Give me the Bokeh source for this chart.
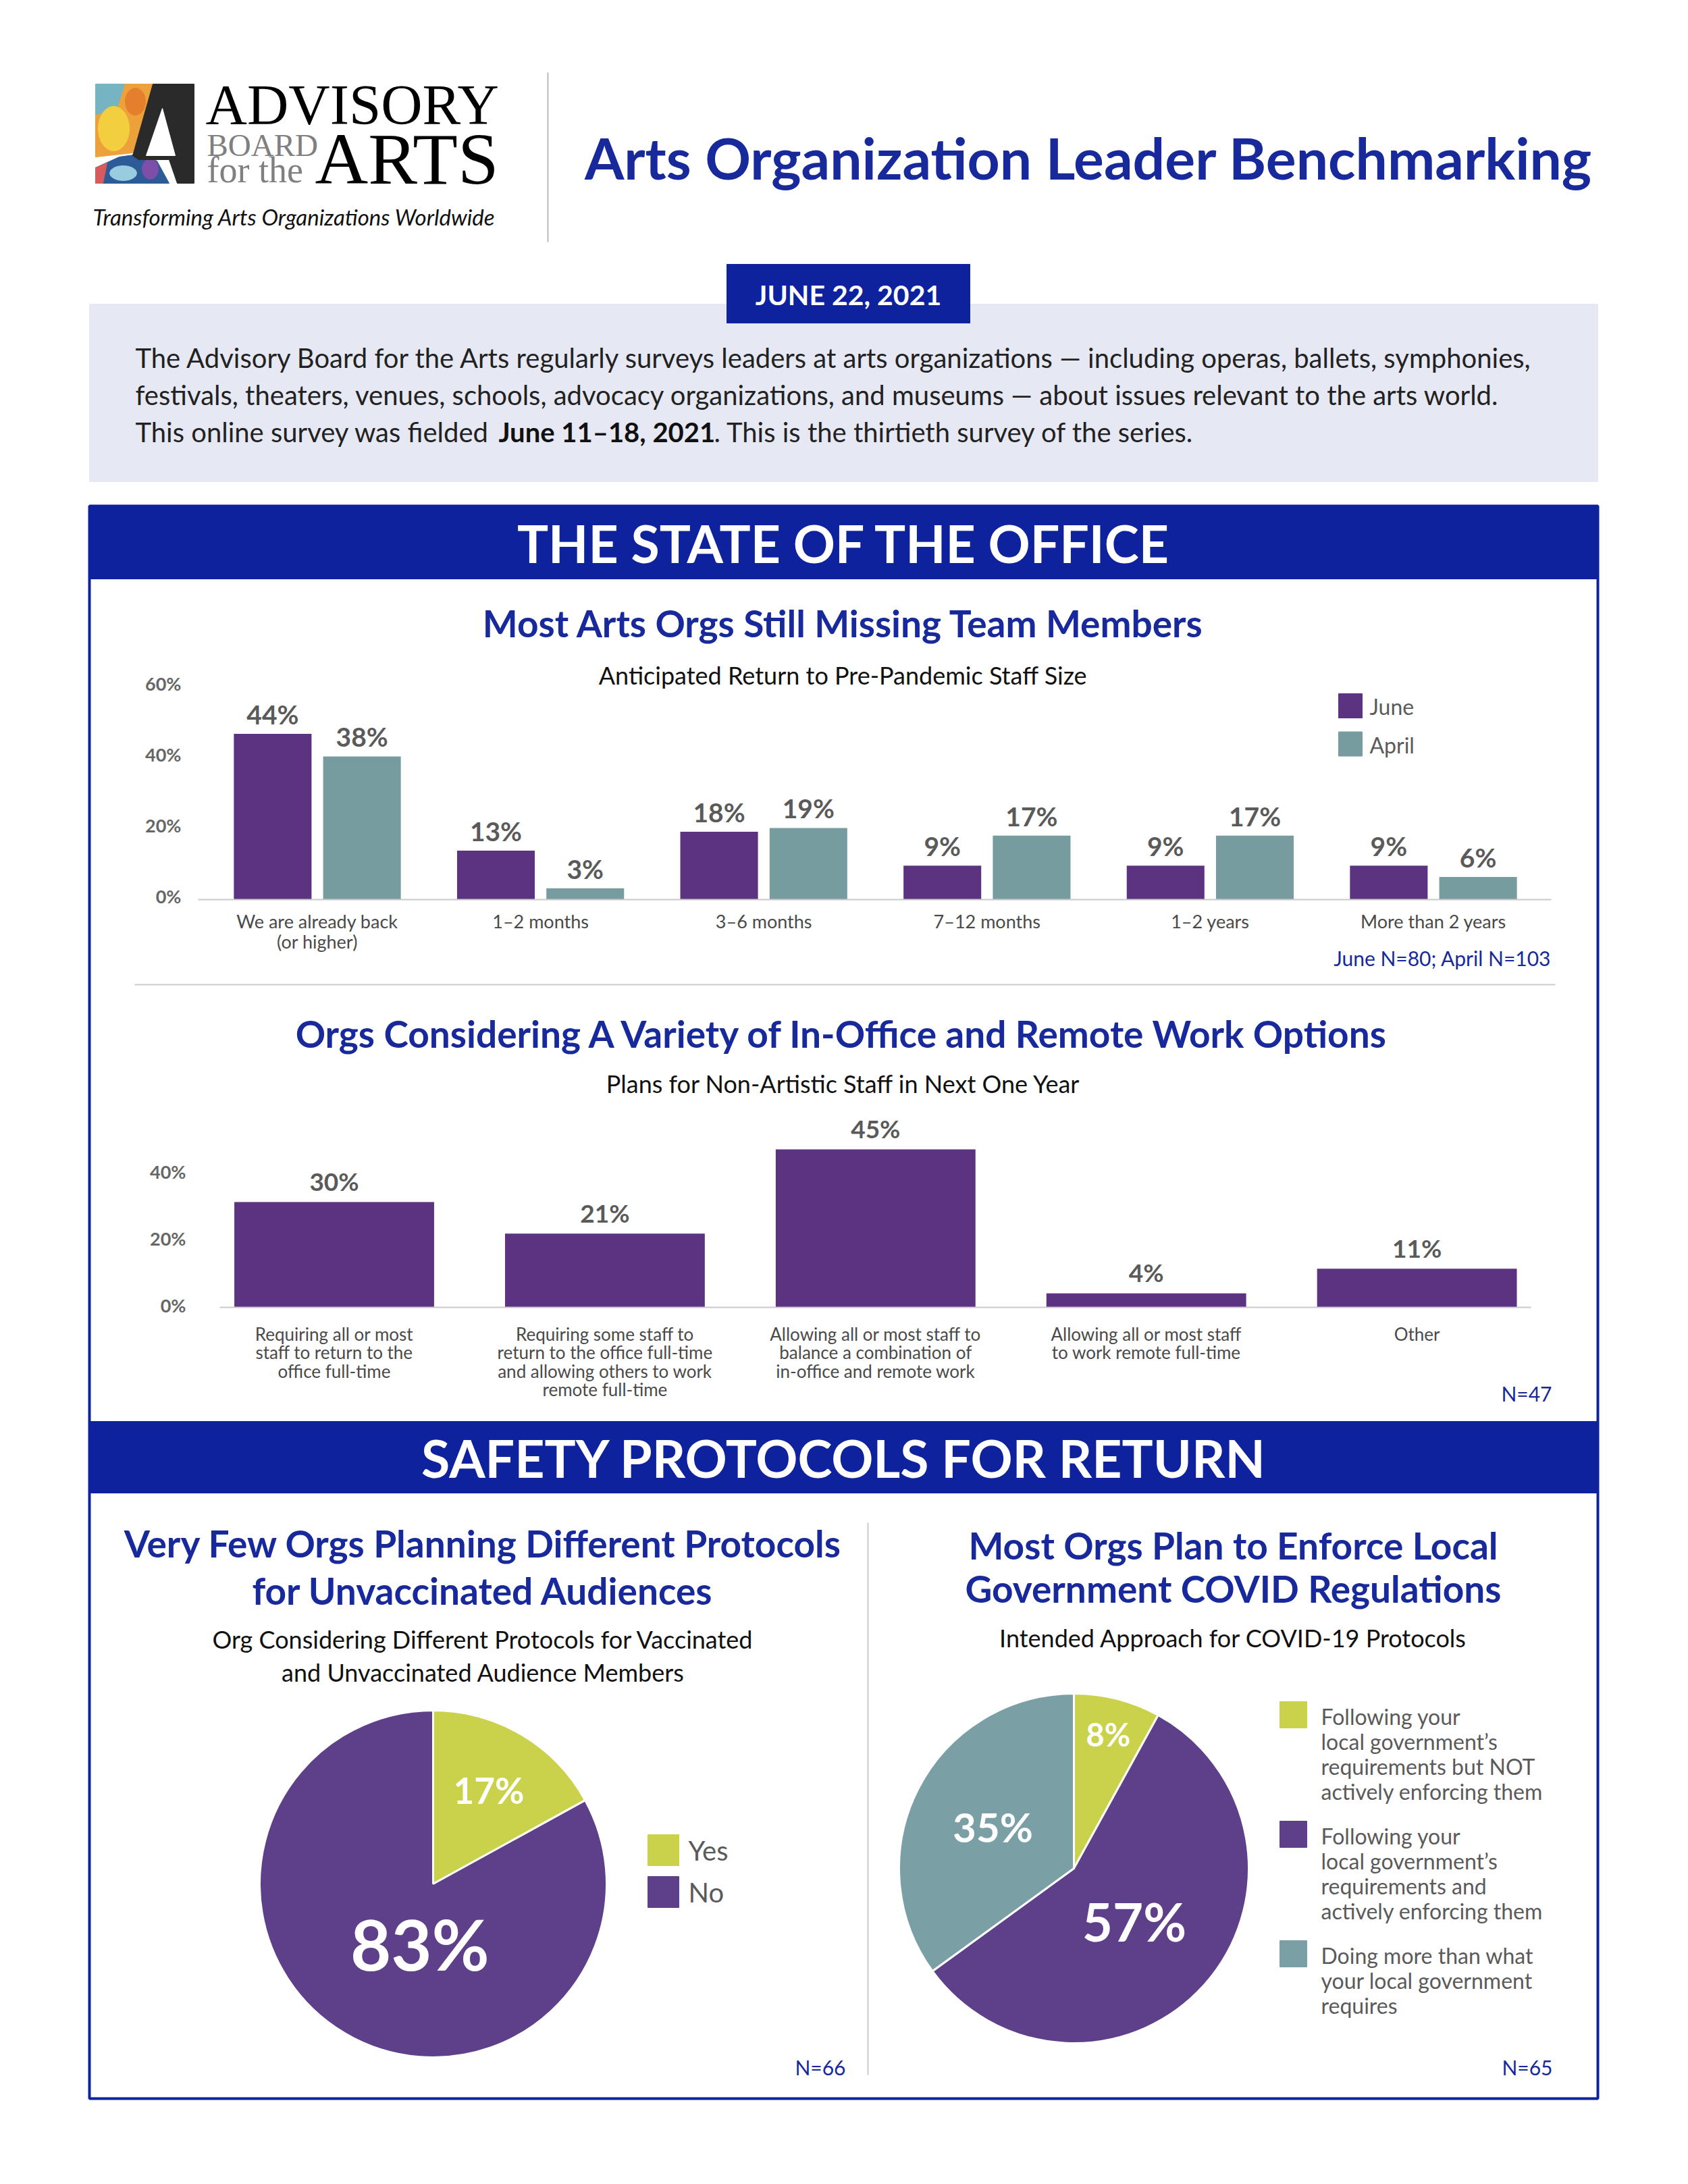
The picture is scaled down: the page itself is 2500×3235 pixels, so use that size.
import numpy as np
from bokeh.plotting import figure
from bokeh.models import Range1d, ColumnDataSource
from bokeh.core.properties import value
from bokeh.embed import file_html
from bokeh.resources import INLINE

# ---------------- data ----------------
staff_categories = ["We are already back\n(or higher)", "1–2 months", "3–6 months",
                    "7–12 months", "1–2 years", "More than 2 years"]
staff_series = ["June", "April"]
staff_june = [44, 13, 18, 9, 9, 9]
staff_april = [38, 3, 19, 17, 17, 6]
staff_ticks = [0, 20, 40, 60]
staff_note = "June N=80; April N=103"

plan_categories = ["Requiring all or most\nstaff to return to the\noffice full-time",
                   "Requiring some staff to\nreturn to the office full-time\nand allowing others to work\nremote full-time",
                   "Allowing all or most staff to\nbalance a combination of\nin-office and remote work",
                   "Allowing all or most staff\nto work remote full-time",
                   "Other"]
plan_values = [30, 21, 45, 4, 11]
plan_ticks = [0, 20, 40]
plan_note = "N=47"

vacc_labels = ["Yes", "No"]
vacc_values = [17, 83]
vacc_note = "N=66"

covid_labels = ["Following your\nlocal government’s\nrequirements but NOT\nactively enforcing them",
                "Following your\nlocal government’s\nrequirements and\nactively enforcing them",
                "Doing more than what\nyour local government\nrequires"]
covid_values = [8, 57, 35]
covid_note = "N=65"

page_title = "Arts Organization Leader Benchmarking"
date_label = "JUNE 22, 2021"
intro_lines = ["The Advisory Board for the Arts regularly surveys leaders at arts organizations — including  operas, ballets, symphonies,",
               "festivals, theaters, venues, schools, advocacy organizations, and museums — about issues relevant to the arts world."]
intro_last = ["This online survey was fielded", "June 11–18, 2021", ". This is the thirtieth survey of the series."]
section_titles = ["THE STATE OF THE OFFICE", "SAFETY PROTOCOLS FOR RETURN"]
staff_title = "Most Arts Orgs Still Missing Team Members"
staff_sub = "Anticipated Return to Pre-Pandemic Staff Size"
plan_title = "Orgs Considering A Variety of In-Office and Remote Work Options"
plan_sub = "Plans for Non-Artistic Staff in Next One Year"
vacc_title = ["Very Few Orgs Planning Different Protocols", "for Unvaccinated Audiences"]
vacc_sub = ["Org Considering Different Protocols for Vaccinated", "and Unvaccinated Audience Members"]
covid_title = ["Most Orgs Plan to Enforce Local", "Government COVID Regulations"]
covid_sub = ["Intended Approach for COVID-19 Protocols"]

# ---------------- style ----------------
NAVY = "#0E229E"
TNAVY = "#17299B"
PURPLE = "#5B3380"
TEAL = "#769CA0"
PIE_PURPLE = "#5E3F8A"
PIE_TEAL = "#7AA0A5"
LIME = "#C9D24A"
LAVENDER = "#E6E8F4"
GREY = "#5A5A5A"
FONT = "Lato"
TITLE_SIZE = 55
SUB_SIZE = 36
NOTE_SIZE = 30

W, H = 2484, 3219
LEFT, RIGHT, TOP, BOTTOM = 0, W, 0, H

p = figure(width=W, height=H, x_range=Range1d(LEFT, RIGHT), y_range=Range1d(BOTTOM, TOP),
           x_axis_location=None, y_axis_location=None, toolbar_location=None, tools="",
           output_backend="svg", min_border=0, outline_line_color=None,
           background_fill_color="white", border_fill_color="white")
p.xgrid.visible = False
p.ygrid.visible = False


def lin_range(v0, px0, v1, px1, lo_px, hi_px):
    k = (v1 - v0) / (px1 - px0)
    return Range1d(start=v0 + (lo_px - px0) * k, end=v0 + (hi_px - px0) * k)


p.extra_x_ranges = {
    "s_x": lin_range(0, 469.5, 1, 800.1, LEFT, RIGHT),
    "p_x": lin_range(0, 494.5, 1, 895.4, LEFT, RIGHT),
}
p.extra_y_ranges = {
    "s_y": lin_range(0, 1332, 10, 1332 - 55.8, BOTTOM, TOP),
    "s_tick": lin_range(0, 1327, 60, 1012, BOTTOM, TOP),
    "p_y": lin_range(0, 1936, 10, 1936 - 52.0, BOTTOM, TOP),
    "p_tick": lin_range(0, 1933, 40, 1735, BOTTOM, TOP),
    "up": Range1d(0, H),
}


def txt(x, y, s, size, color, align="center", baseline="middle", style="normal", font=FONT, **kw):
    xs = x if isinstance(x, (list, np.ndarray)) else [x]
    ys = y if isinstance(y, (list, np.ndarray)) else [y]
    ss = s if isinstance(s, list) else [s]
    p.text(x=xs, y=ys, text=ss, text_font=value(font), text_font_size=f"{size}px",
           text_color=color, text_align=align, text_baseline=baseline,
           text_font_style=style, **kw)


# ---------------- header ----------------
# logo (decorative artwork)
p.patch([141, 185, 172, 141], [124, 124, 165, 170], color="#76B4C4")
p.patch([185, 228, 196, 141, 141, 172], [124, 124, 226, 232, 170, 165], color="#EDA13A")
p.ellipse(x=[168], y=[190], width=46, height=66, color="#F3CF3F")
p.ellipse(x=[200], y=[150], width=30, height=40, color="#E57F2E")
p.patch([141, 176, 205, 232, 250, 141], [248, 232, 228, 238, 271, 271], color="#2D5B98")
p.patch([141, 158, 152, 141], [248, 241, 271, 271], color="#D65B5E")
p.ellipse(x=[182], y=[256], width=40, height=22, color="#9ACCE0")
p.ellipse(x=[222], y=[250], width=24, height=30, color="#7E4FA8")
p.patch([226, 287, 287, 262, 250, 205, 196], [124, 124, 271, 271, 236, 236, 230], color="#2A2A2A")
p.patch([240, 259, 216], [160, 230, 230], color="white")

txt(304, 154, "ADVISORY", 85, "black", align="left", font="Liberation Serif")
txt(306, 214, "BOARD", 47, "#808080", align="left", font="Liberation Serif")
txt(306, 251, "for the", 54, "#808080", align="left", font="Liberation Serif")
txt(466, 235, "ARTS", 109, "black", align="left", font="Liberation Serif")
txt(137, 320, "Transforming Arts Organizations Worldwide", 33, "#111111", align="left", style="italic")
p.segment(x0=[811], x1=[811], y0=[107], y1=[358], line_color="#BBBBBB", line_width=2)

txt(1612, 233, page_title, 84, TNAVY, style="bold")

# intro box
p.quad(left=[132], right=[2366], top=[450], bottom=[713], color=LAVENDER)
p.quad(left=[1076], right=[1436], top=[391], bottom=[478], color=NAVY)
txt(1256, 436, date_label, 41, "white", style="bold")
for k, line in enumerate(intro_lines):
    txt(200, 529 + k * 55, line, 40, "#222222", align="left")
txt(200, 639, intro_last[0], 40, "#222222", align="left")
txt(738, 639, intro_last[1], 40, "#111111", align="left", style="bold")
txt(1057, 639, intro_last[2], 40, "#222222", align="left")

# section bands and panel border
for (y0, y1), title in zip([(749, 857), (2105, 2211)], section_titles):
    p.quad(left=[132], right=[2366], top=[y0], bottom=[y1], color=NAVY)
    txt(1250, (y0 + y1) / 2, title, 77, "white", style="bold")
p.quad(left=[132], right=[2366], top=[749], bottom=[3108], fill_color=None,
       line_color=NAVY, line_width=4)

# ---------------- chart 1: staff size ----------------
txt(1249, 922, staff_title, TITLE_SIZE, TNAVY, style="bold")
txt(1248, 999, staff_sub, SUB_SIZE, "#111111")

sx = np.arange(len(staff_categories))
dodge = 0.2
bw1 = 0.348
for vals, col, off in [(staff_june, PURPLE, -dodge), (staff_april, TEAL, dodge)]:
    src = ColumnDataSource(dict(x=sx + off, top=vals, lab=[f"{v}%" for v in vals]))
    p.vbar(x="x", top="top", bottom=0, width=bw1, source=src, fill_color=col, line_color=None,
           x_range_name="s_x", y_range_name="s_y")
    p.text(x="x", y="top", text="lab", source=src, text_font=value(FONT), text_font_size="39px",
           text_font_style="bold", text_color=GREY, text_align="center", text_baseline="middle",
           y_offset=-29, x_range_name="s_x", y_range_name="s_y")

p.segment(x0=[293], x1=[2297], y0=[0], y1=[0], line_color="#C9C9C9", line_width=2, y_range_name="s_y")
txt([268] * len(staff_ticks), list(staff_ticks), [f"{t}%" for t in staff_ticks], 27, "#666666",
    align="right", style="bold", y_range_name="s_tick")

cx, cy, cl, co = [], [], [], []
for i, lab in enumerate(staff_categories):
    for k, line in enumerate(lab.split("\n")):
        cx.append(i); cy.append(0); cl.append(line); co.append(32 + 30 * k)
p.text(x=cx, y=cy, text=cl, y_offset=co, text_font=value(FONT), text_font_size="27px",
       text_color="#4A4A4A", text_align="center", text_baseline="middle",
       x_range_name="s_x", y_range_name="s_y")

for k, (name, col) in enumerate(zip(staff_series, [PURPLE, TEAL])):
    p.quad(left=[1982], right=[2017], top=[1027 + 56.5 * k], bottom=[1063 + 56.5 * k], color=col)
    txt(2028, 1046 + 56.5 * k, name, 32, GREY, align="left")
txt(2297, 1418, staff_note, NOTE_SIZE, TNAVY, align="right")
p.segment(x0=[199], x1=[2303], y0=[1458], y1=[1458], line_color="#CCCCCC", line_width=2)

# ---------------- chart 2: plans ----------------
txt(1249, 1530, plan_title, TITLE_SIZE, TNAVY, style="bold")
txt(1249, 1604, plan_sub, SUB_SIZE, "#111111")

px_ = np.arange(len(plan_categories))
src2 = ColumnDataSource(dict(x=px_, top=plan_values, lab=[f"{v}%" for v in plan_values]))
p.vbar(x="x", top="top", bottom=0, width=0.738, source=src2, fill_color=PURPLE, line_color=None,
       x_range_name="p_x", y_range_name="p_y")
p.text(x="x", y="top", text="lab", source=src2, text_font=value(FONT), text_font_size="37px",
       text_font_style="bold", text_color=GREY, text_align="center", text_baseline="middle",
       y_offset=-31, x_range_name="p_x", y_range_name="p_y")
p.segment(x0=[325], x1=[2267], y0=[0], y1=[0], line_color="#C9C9C9", line_width=2, y_range_name="p_y")
txt([275] * len(plan_ticks), list(plan_ticks), [f"{t}%" for t in plan_ticks], 27, "#666666",
    align="right", style="bold", y_range_name="p_tick")

cx, cy, cl, co = [], [], [], []
for i, lab in enumerate(plan_categories):
    for k, line in enumerate(lab.split("\n")):
        cx.append(i); cy.append(0); cl.append(line); co.append(39 + 27.5 * k)
p.text(x=cx, y=cy, text=cl, y_offset=co, text_font=value(FONT), text_font_size="26px",
       text_color="#4A4A4A", text_align="center", text_baseline="middle",
       x_range_name="p_x", y_range_name="p_y")
txt(2298, 2063, plan_note, NOTE_SIZE, TNAVY, align="right")

# ---------------- pies ----------------
p.segment(x0=[1285], x1=[1285], y0=[2255], y1=[3073], line_color="#CCCCCC", line_width=2)


def pie(cx_, cy_, r, vals, colors, fracs, shifts, sizes):
    fr = np.array(vals, dtype=float) / sum(vals)
    cum = np.concatenate([[0.0], np.cumsum(fr)])
    start = np.pi / 2 - 2 * np.pi * cum[:-1]
    end = np.pi / 2 - 2 * np.pi * cum[1:]
    cyu = BOTTOM - cy_
    n = len(vals)
    p.wedge(x=[cx_] * n, y=[cyu] * n, radius=r, radius_units="screen", start_angle=start,
            end_angle=end, direction="clock", fill_color=colors, line_color="white",
            line_width=3, y_range_name="up")
    mid = (cum[:-1] + cum[1:]) * np.pi + np.radians(shifts)
    lx = cx_ + np.array(fracs) * r * np.sin(mid)
    ly = cyu + np.array(fracs) * r * np.cos(mid)
    for j in range(n):
        txt(lx[j], ly[j], f"{vals[j]}%", sizes[j], "white", style="bold", y_range_name="up")


# left pie
for k, line in enumerate(vacc_title):
    txt(715, 2285 + 70 * k, line, TITLE_SIZE, TNAVY, style="bold")
for k, line in enumerate(vacc_sub):
    txt(715, 2427 + 49 * k, line, SUB_SIZE, "#111111")
pie(641, 2790, 257, vacc_values, [LIME, PIE_PURPLE], [0.63, 0.35], [0, -18], [53, 104])
for k, (name, col) in enumerate(zip(vacc_labels, [LIME, PIE_PURPLE])):
    p.quad(left=[959], right=[1005], top=[2717 + 62 * k], bottom=[2763 + 62 * k], color=col)
    txt(1019, 2740 + 62 * k, name, 40, GREY, align="left")
txt(1252, 3061, vacc_note, NOTE_SIZE, TNAVY, align="right")

# right pie
for k, line in enumerate(covid_title):
    txt(1826, 2288 + 64 * k, line, TITLE_SIZE, TNAVY, style="bold")
for k, line in enumerate(covid_sub):
    txt(1826, 2425 + 49 * k, line, SUB_SIZE, "#111111")
pie(1590, 2767, 259, covid_values, [LIME, PIE_PURPLE, PIE_TEAL], [0.79, 0.46, 0.52], [0, 0, 0],
    [47, 78, 60])
leg_tops = [2520, 2697, 2874]
for k, (name, col) in enumerate(zip(covid_labels, [LIME, PIE_PURPLE, PIE_TEAL])):
    t = leg_tops[k]
    p.quad(left=[1895], right=[1935], top=[t], bottom=[t + 39], color=col)
    for j, line in enumerate(name.split("\n")):
        txt(1956, t + 22 + 37 * j, line, 32, GREY, align="left")
txt(2299, 3061, covid_note, NOTE_SIZE, TNAVY, align="right")

open("out.html", "w").write(file_html(p, INLINE))
